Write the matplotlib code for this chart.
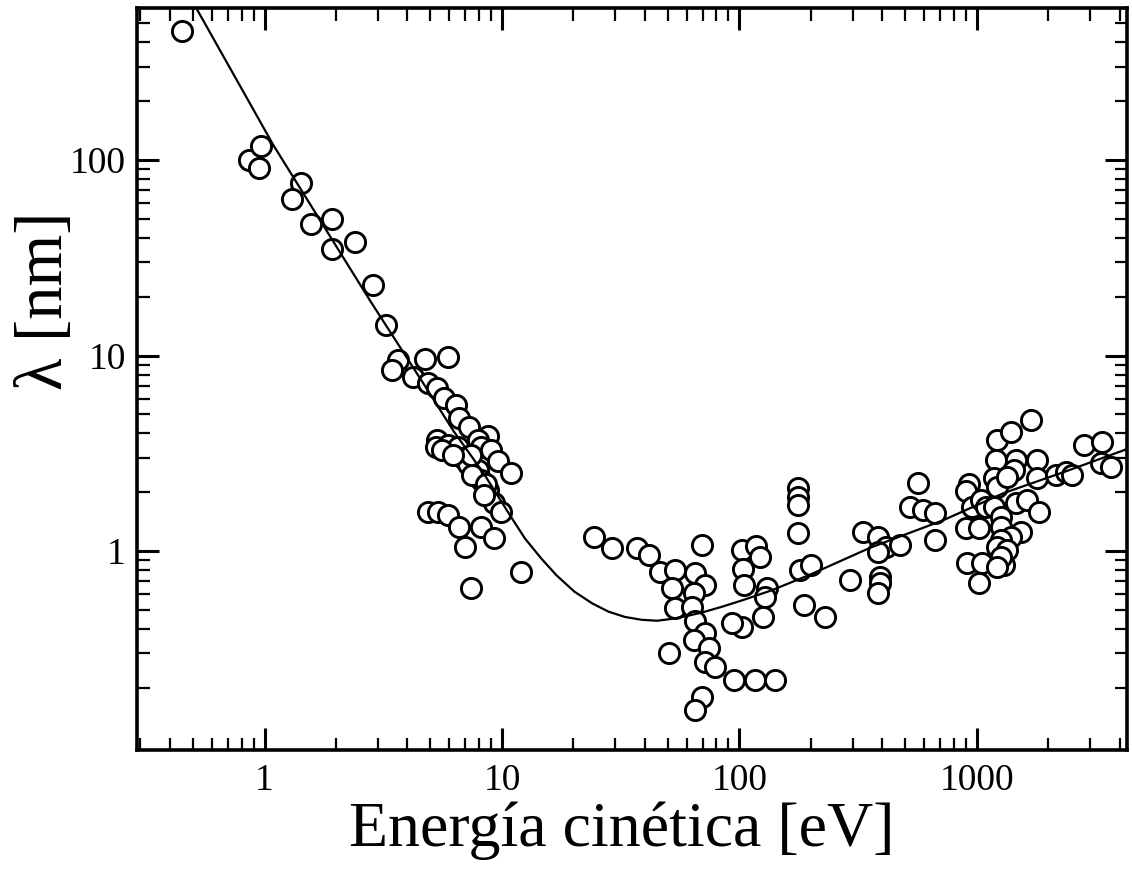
import numpy as np
import matplotlib.pyplot as plt
from matplotlib.ticker import LogLocator, NullFormatter, FixedLocator, FixedFormatter

plt.rcParams['font.family'] = ['Liberation Serif', 'DejaVu Serif']

energia_a = [0.45, 0.86, 0.97, 0.95, 1.42, 1.30, 1.57, 1.92, 1.92, 2.41, 2.87, 3.26]
lambda_a = [457, 100, 118, 91, 76, 63, 47, 50, 35, 38, 23, 14.3]

energia_b = [3.66, 3.45, 4.76, 5.90, 4.20, 4.86, 5.35, 5.68, 6.38, 6.57, 7.25, 8.73,
             7.91, 5.35, 5.25, 5.90, 6.51, 6.84, 7.18, 7.91, 8.15, 8.98, 9.6, 10.9,
             8.15, 8.73, 9.25, 9.9, 4.9, 5.4, 5.9, 6.57, 8.15, 9.25, 7.0, 12.0,
             7.39, 7.5, 8.6, 8.4, 7.4, 5.6, 6.2]
lambda_b = [9.5, 8.4, 9.6, 9.8, 7.8, 7.2, 6.8, 6.1, 5.6, 4.8, 4.3, 3.9,
            3.7, 3.7, 3.4, 3.5, 3.4, 3.0, 2.8, 2.6, 3.4, 3.3, 2.9, 2.5,
            2.3, 2.05, 1.76, 1.58, 1.58, 1.58, 1.53, 1.33, 1.33, 1.17, 1.05, 0.78,
            0.65, 2.45, 2.2, 1.93, 3.1, 3.3, 3.1]

energia_c = [24.5, 29.0, 37.0, 41.6, 69.7, 46.3, 53.5, 65.1, 52.0, 71.8, 64.5, 53.5,
             63.2, 65.1, 71.8, 64.5, 74.6, 50.5, 71.8, 79.1, 95.2, 117, 141, 69.7,
             65.1, 103, 118, 122, 104, 105, 131, 128, 126, 103, 93]
lambda_c = [1.18, 1.04, 1.04, 0.95, 1.07, 0.78, 0.80, 0.77, 0.65, 0.67, 0.61, 0.51,
            0.52, 0.44, 0.38, 0.35, 0.32, 0.30, 0.27, 0.255, 0.22, 0.22, 0.22, 0.18,
            0.154, 1.01, 1.06, 0.93, 0.81, 0.67, 0.65, 0.58, 0.46, 0.41, 0.43]

energia_d = [176, 176, 176, 176, 181, 200, 188, 229, 332, 292, 384, 415,
             476, 384, 392, 392, 384, 568, 525, 596, 670, 670]
lambda_d = [2.10, 1.89, 1.72, 1.24, 0.80, 0.85, 0.53, 0.46, 1.25, 0.71, 1.18, 1.05,
            1.07, 0.99, 0.74, 0.69, 0.61, 2.23, 1.68, 1.62, 1.56, 1.14]

energia_e = [925, 898, 953, 1040, 1100, 898, 1020, 907, 1050, 1020, 1215, 1393,
             1694, 1205, 1463, 1795, 1435, 1795, 1180, 1215, 1340, 1463, 1629, 1832,
             1180, 1264, 1264, 1536, 1393, 1264, 1215, 1340, 1301, 1264, 1215,
             2162, 2383, 2528, 2840, 3388, 3352, 3698]
lambda_e = [2.2, 2.03, 1.68, 1.82, 1.68, 1.31, 1.31, 0.87, 0.87, 0.69, 3.7, 4.06,
            4.68, 2.92, 2.92, 2.92, 2.6, 2.36, 2.36, 2.13, 2.39, 1.76, 1.82, 1.58,
            1.68, 1.49, 1.33, 1.25, 1.18, 1.14, 1.05, 1.01, 0.85, 0.93, 0.83,
            2.45, 2.54, 2.45, 3.48, 3.61, 2.82, 2.69]

# curva universal (puntos leidos sobre la linea)
curva_e = [0.515, 1.09, 2.79, 3.56, 4.6, 6.26, 8.37, 10.9, 12.5, 14.6, 17, 20.2,
           24, 28.1, 33, 38.8, 45, 52, 60, 69.7, 85, 103, 137, 200, 356, 725,
           1301, 2338, 4406]
curva_l = [600, 119, 19.0, 12.0, 7.4, 4.1, 2.5, 1.5, 1.16, 0.92, 0.75, 0.62,
           0.54, 0.49, 0.46, 0.445, 0.44, 0.45, 0.465, 0.485, 0.52, 0.56, 0.63,
           0.76, 1.04, 1.44, 1.98, 2.54, 3.36]

energia = energia_a + energia_b + energia_c + energia_d + energia_e
lam = lambda_a + lambda_b + lambda_c + lambda_d + lambda_e

fig = plt.figure(figsize=(11.32, 8.73), dpi=100)
ax = fig.add_axes([137 / 1132, 1 - 750 / 873, 990 / 1132, 742 / 873])

ax.plot(energia, lam, 'o', mfc='white', mec='black', ms=14.5, mew=2.1, zorder=2,
        clip_on=False)
ax.plot(curva_e, curva_l, color='black', lw=1.6, zorder=3)

ax.set_xscale('log')
ax.set_yscale('log')
ax.set_xlim(0.29, 4300)
ax.set_ylim(0.096, 600)

ax.xaxis.set_major_locator(FixedLocator([1, 10, 100, 1000]))
ax.xaxis.set_major_formatter(FixedFormatter(['1', '10', '100', '1000']))
ax.yaxis.set_major_locator(FixedLocator([1, 10, 100]))
ax.yaxis.set_major_formatter(FixedFormatter(['1', '10', '100']))
ax.xaxis.set_minor_locator(LogLocator(base=10, subs=np.arange(2, 10), numticks=20))
ax.yaxis.set_minor_locator(LogLocator(base=10, subs=np.arange(2, 10), numticks=20))
ax.xaxis.set_minor_formatter(NullFormatter())
ax.yaxis.set_minor_formatter(NullFormatter())

ax.tick_params(which='both', direction='in', top=True, right=True, labelsize=27)
ax.tick_params(which='major', length=16, width=2.2)
ax.tick_params(which='minor', length=9, width=1.6)
ax.tick_params(axis='x', pad=10)
ax.tick_params(axis='y', pad=8)
for s in ax.spines.values():
    s.set_linewidth(2.6)

ax.set_xlabel('Energía cinética [eV]', fontsize=46)
ax.xaxis.set_label_coords(0.49, -0.07)
ax.xaxis.label.set_va('top')
ax.set_ylabel('λ [nm]', fontsize=48)
ax.yaxis.set_label_coords(-0.062, 0.605)

fig.savefig('out.png', dpi=100)
